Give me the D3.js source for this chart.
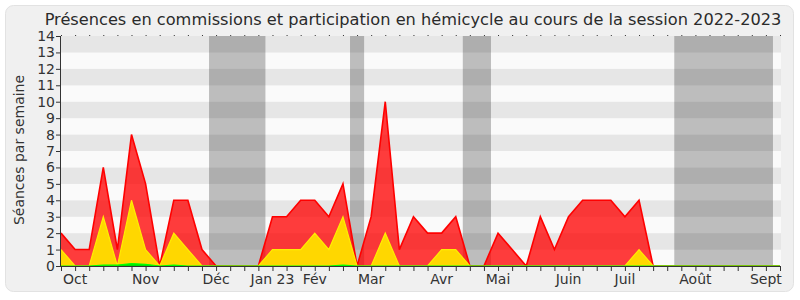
<!DOCTYPE html>
<html><head><meta charset="utf-8">
<script src="https://cdn.jsdelivr.net/npm/d3@7"></script>
<style>
html,body{margin:0;padding:0;background:#fff;}
text{font-family:"DejaVu Sans",sans-serif;}
</style></head>
<body><svg id="c" width="800" height="300"></svg>
<script>
// ---- data ----
const title = "Présences en commissions et participation en hémicycle au cours de la session 2022-2023";
const yLabel = "Séances par semaine";
const weeks = d3.range(52);
const commissions = [2,1,1,6,1,8,5,0,4,4, 1,0,0,0,0,3,3,4,4,3, 5,0,3,10,1,3,2,2,3,0, 0,2,1,0,3,1,3,4,4,4, 3,4,0,0,0,0,0,0,0,0,0,0];
const hemicycle   = [1,0,0,3,0,4,1,0,2,1, 0,0,0,0,0,1,1,1,2,1, 3,0,0,2,0,0,0,1,1,0, 0,0,0,0,0,0,0,0,0,0, 0,1,0,0,0,0,0,0,0,0,0,0];
const interventions=[0,0,0,0.05,0.05,0.15,0.1,0,0.05,0, 0,0,0,0,0,0,0,0,0,0, 0.05,0,0,0,0,0,0,0,0,0, 0,0,0,0,0,0,0,0,0,0, 0,0,0,0,0,0,0,0,0,0,0,0];
const vacations = [[11,14],[21,21],[29,30],[44,50]];
const monthLabels = ["Oct","Nov","Déc","Jan 23","Fév","Mar","Avr","Mai","Juin","Juil","Août","Sept"];
const monthWeeks  = [1,6,11,15,18,22,27,31,36,40,45,50];
const yTicks = d3.range(0,15);

// ---- layout ----
const svg = d3.select("#c");
const L=61, R=780, T=36, B=266;
const x = d3.scaleLinear().domain([0,51]).range([L,R]);
const y = d3.scaleLinear().domain([0,14]).range([B,T]);

svg.append("rect").attr("x",5.5).attr("y",5.5).attr("width",788).attr("height",286)
  .attr("rx",8).attr("fill","#f0f0f0").attr("stroke","#e2e2e2");

// stripes
svg.append("g").selectAll("rect").data(d3.range(14)).join("rect")
  .attr("x",L).attr("width",R-L+1)
  .attr("y",d=>y(d+1)).attr("height",d=>y(d)-y(d+1))
  .attr("fill",d=>d%2===1?"#e6e6e6":"#fafafa");

// vacations
svg.append("g").selectAll("rect").data(vacations).join("rect")
  .attr("x",d=>x(d[0]-0.5)).attr("width",d=>x(d[1]+0.5)-x(d[0]-0.5))
  .attr("y",T).attr("height",B-T)
  .attr("fill","rgba(0,0,0,0.245)");

const area = vals => d3.area().x((d,i)=>x(i)).y0(y(0)).y1(d=>y(d))(vals);
const line = vals => d3.line().x((d,i)=>x(i)).y(d=>y(d))(vals);

svg.append("path").attr("d",area(commissions)).attr("fill","rgba(255,0,0,0.76)");
svg.append("path").attr("d",line(commissions)).attr("fill","none").attr("stroke","#ff0000").attr("stroke-width",1.6);
svg.append("path").attr("d",area(hemicycle)).attr("fill","#ffd700");
svg.append("path").attr("d",line(hemicycle)).attr("fill","none").attr("stroke","#ffee00").attr("stroke-width",1.2);
svg.append("path").attr("d",area(interventions)).attr("fill","#00e000");
svg.append("path").attr("d",line(interventions)).attr("fill","none").attr("stroke","#00ff00").attr("stroke-width",1.2);

// axes
const axisColor="#333";
const gx = svg.append("g").attr("transform",`translate(0,${B})`)
  .call(d3.axisBottom(x).tickValues(weeks).tickSize(5).tickFormat(""));
gx.select(".domain").attr("stroke",axisColor).attr("d",`M${L},0.5H${R}`);
gx.selectAll(".tick line").attr("stroke",axisColor);
svg.append("g").selectAll("text").data(monthLabels).join("text")
  .attr("x",(d,i)=>x(monthWeeks[i])).attr("y",284)
  .attr("text-anchor","middle").attr("font-size",14).attr("fill","#333").text(d=>d);

const gt = svg.append("g").attr("transform",`translate(0,${T})`)
  .call(d3.axisTop(x).tickValues(weeks).tickSize(1).tickFormat(""));
gt.select(".domain").remove();
gt.selectAll(".tick line").attr("stroke","#333");

const gy = svg.append("g").attr("transform",`translate(${L},0)`)
  .call(d3.axisLeft(y).tickValues(yTicks).tickSize(5).tickFormat(d3.format("d")));
gy.select(".domain").attr("stroke",axisColor).attr("d",`M-0.5,${T}V${B}`);
gy.selectAll(".tick line").attr("stroke",axisColor);
gy.selectAll(".tick text").attr("font-size",14).attr("fill","#333").attr("x",-6)
  .attr("font-family","DejaVu Sans");

svg.append("text").attr("transform","translate(24,150) rotate(-90)")
  .attr("text-anchor","middle").attr("font-size",14).attr("fill","#333").text(yLabel);
svg.append("text").attr("x",413).attr("y",25).attr("text-anchor","middle")
  .attr("font-size",16.2).attr("fill","#2a2a2a").text(title);
</script></body></html>
